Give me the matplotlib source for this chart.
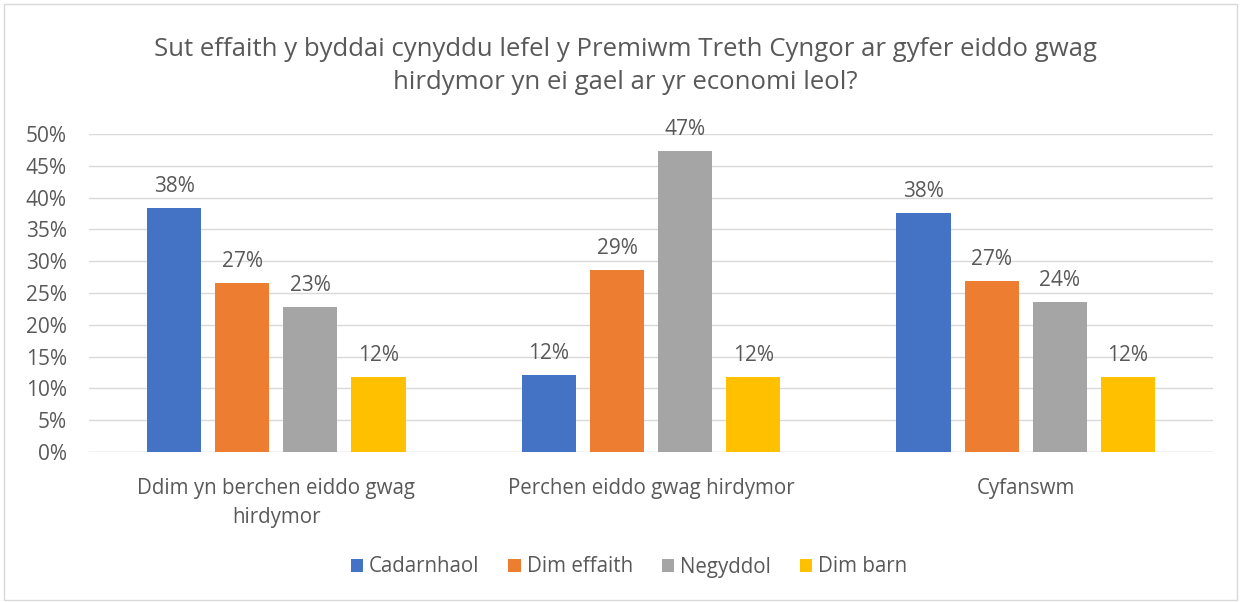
import matplotlib
matplotlib.use("Agg")
import matplotlib.pyplot as plt
from matplotlib.patches import Rectangle
import numpy as np

categories = ["Ddim yn berchen eiddo gwag\nhirdymor", "Perchen eiddo gwag hirdymor", "Cyfanswm"]
series_names = ["Cadarnhaol", "Dim effaith", "Negyddol", "Dim barn"]
cadarnhaol = [0.383, 0.121, 0.376]
dim_effaith = [0.266, 0.286, 0.269]
negyddol = [0.228, 0.473, 0.236]
dim_barn = [0.118, 0.118, 0.118]
series_values = [cadarnhaol, dim_effaith, negyddol, dim_barn]
colors = ["#4472C4", "#ED7D31", "#A5A5A5", "#FFC000"]
title = "Sut effaith y byddai cynyddu lefel y Premiwm Treth Cyngor ar gyfer eiddo gwag\nhirdymor yn ei gael ar yr economi leol?"

plt.rcParams['font.family'] = ['Open Sans', 'DejaVu Sans']
txt = "#595959"

W, H = 1241, 602
fig = plt.figure(figsize=(W/100, H/100), dpi=100)
fig.patches.append(Rectangle((4/W, 2/H), 1233/W, 596/H, transform=fig.transFigure,
                             fill=False, edgecolor="#D9D9D9", linewidth=1))
ax = fig.add_axes([89/W, 1-452/H, (1213-89)/W, (452-134)/H])

x = np.arange(len(categories))
width = 54/374
step = 68/374
for i, (name, vals, c) in enumerate(zip(series_names, series_values, colors)):
    pos = x + (i - 1.5) * step
    bars = ax.bar(pos, vals, width=width, color=c, label=name, zorder=3)
    for b, v in zip(bars, vals):
        ax.annotate(f"{v:.0%}", (b.get_x() + b.get_width()/2, v), xytext=(0, 8),
                    textcoords="offset points", ha="center", va="bottom",
                    fontsize=15, color=txt)

ax.set_xlim(-0.5, 2.5)
ax.set_ylim(0, 0.5)
yt = np.arange(0, 0.51, 0.05)
ax.set_yticks(yt)
ax.set_yticklabels([f"{t:.0%}" for t in yt], fontsize=15, color=txt)
ax.set_xticks(x)
ax.set_xticklabels(categories, fontsize=14.8, color=txt, linespacing=1.45)
ax.tick_params(axis="both", length=0)
ax.tick_params(axis="y", pad=16)
ax.tick_params(axis="x", pad=19)
ax.grid(axis="y", color="#D9D9D9", linewidth=1, zorder=0)
for s in ax.spines.values():
    s.set_visible(False)
ax.axhline(0, color="#D9D9D9", linewidth=1, zorder=2)

fig.text(625/W, 1-66/H, title, ha="center", va="center", fontsize=18.5, color=txt, linespacing=1.4)

leg = fig.legend(loc="center", bbox_to_anchor=(629/W, 1-567/H), ncol=4, frameon=False,
                 fontsize=14.8, handlelength=0.6, handleheight=0.6, handletextpad=0.3,
                 columnspacing=1.4, labelcolor=txt)

fig.savefig("out.png", dpi=100)
